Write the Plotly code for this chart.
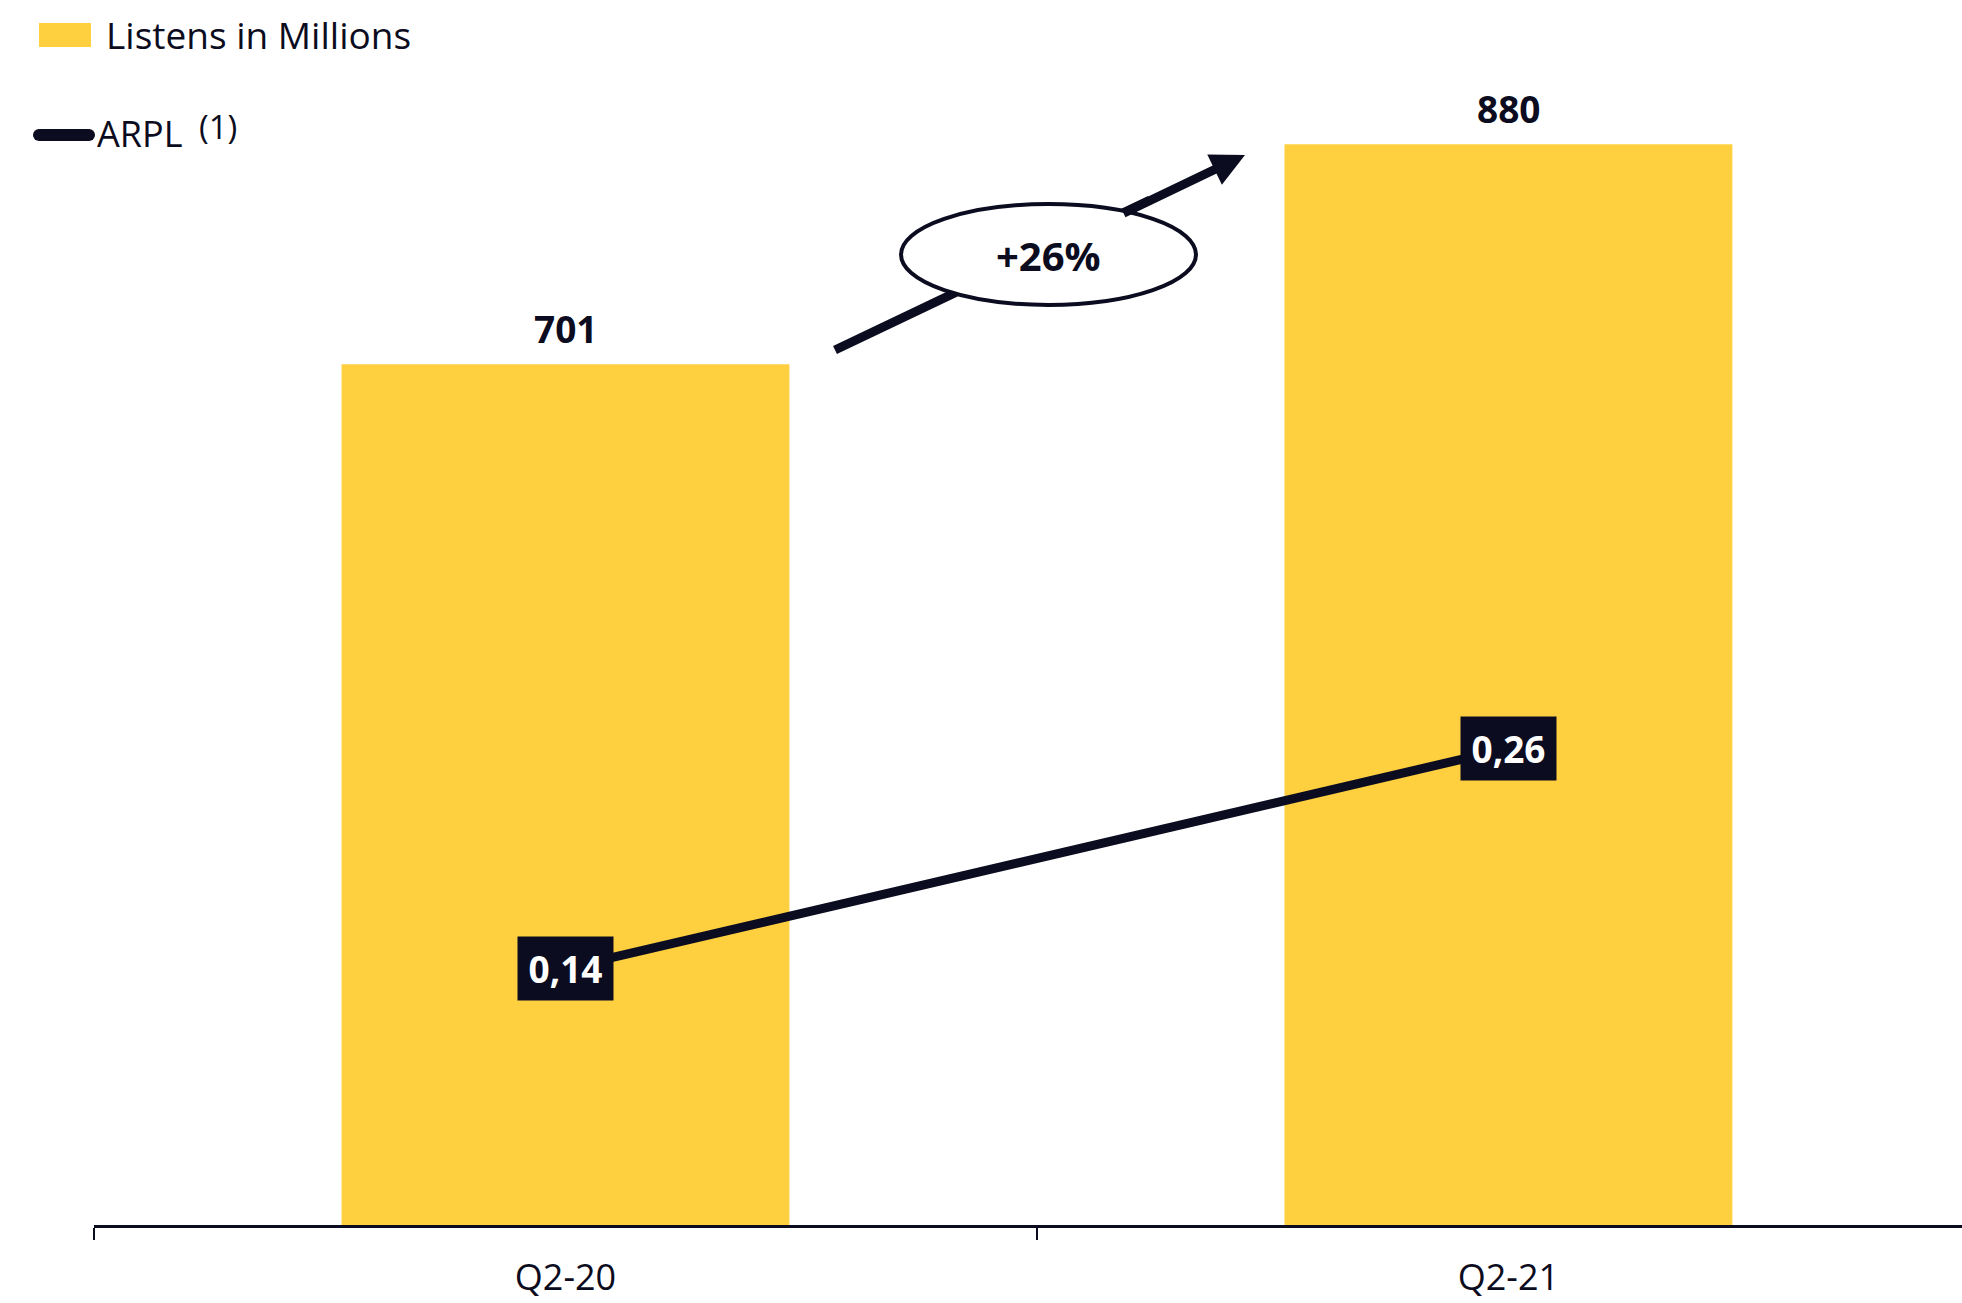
import plotly.graph_objects as go

categories = ["Q2-20", "Q2-21"]
listens = [701, 880]
arpl = [0.14, 0.26]
arpl_labels = ["0,14", "0,26"]
growth_label = "+26%"

YELLOW = "#FED040"
DARK = "#0C0C20"
FONT = "Open Sans"

W, H = 1962, 1303
X0_PAGE = 94          # left edge of plot area
Y0_PAGE = 1225        # bottom edge of plot area
ML, MT = X0_PAGE, 0
MB = H - Y0_PAGE
PW = W - ML
PH = H - MB - MT


def px(x):
    return (x - X0_PAGE) / PW


def py(y):
    return (Y0_PAGE - y) / PH


fig = go.Figure()
fig.add_trace(go.Bar(
    x=categories, y=listens, name="Listens in Millions",
    marker=dict(color=YELLOW, line=dict(width=0)), width=0.475,
    showlegend=False,
))
fig.add_trace(go.Scatter(
    x=categories, y=arpl, yaxis="y2", mode="lines", name="ARPL",
    line=dict(color=DARK, width=9), showlegend=False,
))

# bar value labels
for c, v in zip(categories, listens):
    fig.add_annotation(
        x=c, y=v, xref="x", yref="y", text=f"<b>{v}</b>", showarrow=False,
        yanchor="middle", yshift=36,
        font=dict(family=FONT, size=37, color=DARK),
    )

# ARPL labels
for c, v, t in zip(categories, arpl, arpl_labels):
    fig.add_annotation(
        x=c, y=v, xref="x", yref="y2", text=f"<b>{t}</b>", showarrow=False,
        font=dict(family=FONT, size=37, color="white"),
        bgcolor=DARK, width=93, height=61, align="center", valign="middle",
        xanchor="center", yanchor="middle",
    )

# growth arrow: line under the ellipse, head drawn as annotation
fig.add_shape(
    type="line", xref="paper", yref="paper",
    x0=px(835), y0=py(350), x1=px(1150), y1=py(200),
    line=dict(color=DARK, width=9), layer="above",
)
fig.add_shape(
    type="circle", xref="paper", yref="paper",
    x0=px(901), x1=px(1196), y0=py(305), y1=py(204),
    line=dict(color=DARK, width=4), fillcolor="white", layer="above",
)
fig.add_annotation(
    x=px(1245), y=py(155), xref="paper", yref="paper",
    ax=1122 - 1245, ay=214 - 155, axref="pixel", ayref="pixel",
    text="", showarrow=True, arrowhead=2, arrowsize=0.75, arrowwidth=9,
    arrowcolor=DARK, standoff=0, startstandoff=0,
)
fig.add_annotation(
    x=px(1048), y=py(255), xref="paper", yref="paper",
    xanchor="center", yanchor="middle",
    text=f"<b>{growth_label}</b>", showarrow=False,
    font=dict(family=FONT, size=40, color=DARK),
)

# legend (manual)
fig.add_shape(type="rect", xref="paper", yref="paper",
              x0=px(39), x1=px(91), y0=py(47), y1=py(23),
              fillcolor=YELLOW, line=dict(width=0))
fig.add_annotation(x=px(104), y=py(34), xref="paper", yref="paper",
                   text="Listens in Millions", showarrow=False,
                   xanchor="left", yanchor="middle",
                   font=dict(family=FONT, size=37, color=DARK))
fig.add_shape(type="rect", xref="paper", yref="paper",
              x0=px(39), x1=px(89), y0=py(141), y1=py(129),
              fillcolor=DARK, line=dict(width=0))
for cx in (39, 89):
    fig.add_shape(type="circle", xref="paper", yref="paper",
                  x0=px(cx - 6), x1=px(cx + 6), y0=py(141), y1=py(129),
                  fillcolor=DARK, line=dict(width=0))
fig.add_annotation(x=px(95), y=py(134), xref="paper", yref="paper",
                   text="ARPL", showarrow=False,
                   xanchor="left", yanchor="middle",
                   font=dict(family=FONT, size=36, color=DARK))
fig.add_annotation(x=px(218), y=py(126), xref="paper", yref="paper",
                   text="(1)", showarrow=False,
                   xanchor="center", yanchor="middle",
                   font=dict(family=FONT, size=33, color=DARK))

fig.update_layout(
    width=W, height=H,
    margin=dict(l=ML, r=0, t=MT, b=MB, pad=0),
    plot_bgcolor="white", paper_bgcolor="white",
    showlegend=False,
    font=dict(family=FONT, color=DARK),
    xaxis=dict(
        type="category", range=[-0.5, 1.481], tickson="boundaries",
        ticks="outside", ticklen=12, tickwidth=1.5, tickcolor=DARK,
        showline=True, linecolor=DARK, linewidth=3, automargin=False,
        showgrid=False, zeroline=False, ticklabelstandoff=19,
        tickfont=dict(family=FONT, size=36, color=DARK),
    ),
    yaxis=dict(range=[0, PH / 1.228], visible=False, automargin=False),
    yaxis2=dict(range=[0, PH / 1833], overlaying="y", visible=False,
                automargin=False),
)

fig.write_html(
    "out.html",
    config={"displayModeBar": False},
    post_script=(
        "document.body.style.margin='0';"
        "document.documentElement.style.overflow='hidden';"
        "document.body.style.overflow='hidden';"
    ),
)
